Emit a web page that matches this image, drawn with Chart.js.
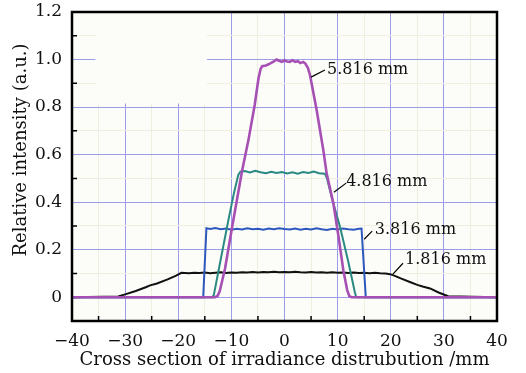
<!DOCTYPE html>
<html>
<head>
<meta charset="utf-8">
<script src="https://cdn.jsdelivr.net/npm/chart.js@4"></script>
<style>
  body { margin: 0; background: #ffffff; }
  #wrap { width: 526px; height: 373px; }
</style>
</head>
<body>
<div id="wrap"><canvas id="perfil"></canvas></div>
<script>
// ---- data (x in mm, y relative intensity) ----
const labels1816 = '1.816 mm', labels3816 = '3.816 mm', labels4816 = '4.816 mm', labels5816 = '5.816 mm';

const blackX = [-40, -31.3, -30, -28, -26, -25.3, -24, -22, -20.5, -19.4, -18, -17, -16, -15, -14, -13, -12, -11, -10, -9, -8, -7, -6, -5, -4, -3, -2, -1, 0, 1, 2, 3, 4, 5, 6, 7, 8, 9, 10, 11, 12, 13, 14, 15, 16, 17, 18, 19, 19.9, 21, 22, 23.6, 25, 26, 27.4, 29, 30.8, 40];
const blackY = [0, 0.003, 0.012, 0.026, 0.043, 0.05, 0.058, 0.075, 0.09, 0.103, 0.101, 0.103, 0.102, 0.104, 0.101, 0.103, 0.105, 0.102, 0.104, 0.103, 0.105, 0.104, 0.106, 0.104, 0.106, 0.105, 0.107, 0.105, 0.106, 0.105, 0.107, 0.105, 0.104, 0.106, 0.104, 0.105, 0.103, 0.105, 0.103, 0.104, 0.102, 0.104, 0.102, 0.103, 0.101, 0.103, 0.101, 0.1, 0.097, 0.088, 0.078, 0.064, 0.052, 0.045, 0.037, 0.02, 0.004, 0];

const blueX = [-40, -15.3, -14.7, -14, -13, -12, -11, -10, -9, -8, -7, -6, -5, -4, -3, -2, -1, 0, 1, 2, 3, 4, 5, 6, 7, 8, 9, 10, 11, 12, 13, 14, 14.5, 15.3, 40];
const blueY = [0, 0, 0.29, 0.287, 0.291, 0.286, 0.289, 0.284, 0.288, 0.285, 0.29, 0.286, 0.288, 0.284, 0.289, 0.286, 0.29, 0.287, 0.285, 0.289, 0.284, 0.288, 0.285, 0.29, 0.286, 0.283, 0.288, 0.285, 0.289, 0.286, 0.284, 0.288, 0.289, 0, 0];

const tealX = [-40, -13.6, -13.3, -12, -10.6, -9.5, -8.7, -8.3, -7.5, -6.5, -5.5, -4.5, -3.5, -2.5, -1.5, -0.5, 0.5, 1.5, 2.5, 3.5, 4.5, 5.5, 6.5, 7.6, 8.0, 9, 10.45, 12, 13.2, 13.5, 40];
const tealY = [0, 0, 0.01, 0.16, 0.32, 0.44, 0.515, 0.528, 0.531, 0.525, 0.532, 0.526, 0.522, 0.528, 0.523, 0.527, 0.521, 0.526, 0.52, 0.527, 0.523, 0.529, 0.522, 0.52, 0.5, 0.41, 0.296, 0.15, 0.025, 0, 0];

const magX = [-40, -13.1, -12.6, -12.2, -11.2, -9.9, -8.0, -6.8, -5.6, -4.9, -4.5, -4.2, -3.5, -3, -2.5, -2, -1.5, -1, -0.5, 0, 0.5, 1, 1.5, 2, 2.5, 3, 3.5, 3.9, 4.4, 4.8, 6.06, 7.3, 7.94, 9.2, 10.2, 11.07, 11.8, 12.2, 12.6, 40];
const magY = [0, 0, 0.005, 0.025, 0.12, 0.29, 0.53, 0.66, 0.81, 0.92, 0.96, 0.972, 0.975, 0.98, 0.986, 0.992, 1.0, 0.995, 0.99, 0.996, 0.992, 0.99, 0.997, 0.99, 0.993, 0.985, 0.99, 0.984, 0.965, 0.935, 0.787, 0.62, 0.52, 0.395, 0.25, 0.114, 0.03, 0.005, 0, 0];

// annotation text positions and leader lines (data coords)
const notaTexto = [labels5816, labels4816, labels3816, labels1816];
const notaX = [8.0, 11.6, 17.0, 22.7];
const notaY = [0.956, 0.484, 0.282, 0.156];
const lineaDesde = [[5.0, 0.926], [9.3, 0.442], [15.0, 0.244], [20.4, 0.097]];
const lineaHasta = [[7.6, 0.956], [11.6, 0.48], [16.5, 0.278], [22.3, 0.143]];

const tituloY = 'Relative intensity (a.u.)';

const pares = (xs, ys) => xs.map((x, i) => ({ x: x, y: ys[i] }));

const FUENTE = '"DejaVu Serif", "Liberation Serif", serif';
const colorMayor = '#9c9ce8';
const colorMenor = '#f0efdf';

// ---- plugin: plot background, hidden legend box, frame, inward ticks, notes ----
const extras = {
  id: 'extras',
  beforeDraw(chart) {
    const { ctx, chartArea: a } = chart;
    ctx.save();
    ctx.fillStyle = '#fcfcf9';
    ctx.fillRect(a.left, a.top, a.right - a.left, a.bottom - a.top);
    ctx.restore();
  },
  beforeDatasetsDraw(chart) {
    // blank patch where the original legend box sat
    const { ctx, scales: { x, y } } = chart;
    const x0 = x.getPixelForValue(-35.6), x1 = x.getPixelForValue(-14.6);
    const y0 = y.getPixelForValue(1.2), y1 = y.getPixelForValue(0.815);
    ctx.save();
    ctx.fillStyle = '#fcfcf9';
    ctx.fillRect(x0, y0, x1 - x0, y1 - y0);
    ctx.restore();
  },
  afterDraw(chart) {
    const { ctx, chartArea: a, scales: { x, y } } = chart;
    ctx.save();
    ctx.strokeStyle = '#000';
    // inward minor ticks
    ctx.lineWidth = 1.5;
    ctx.beginPath();
    for (let v = -35; v < 40; v += 10) {
      const px = x.getPixelForValue(v);
      ctx.moveTo(px, a.bottom);
      ctx.lineTo(px, a.bottom - 5);
    }
    for (let k = 1; k < 12; k += 2) {
      const py = y.getPixelForValue(k / 10);
      ctx.moveTo(a.left, py);
      ctx.lineTo(a.left + 5, py);
    }
    ctx.stroke();
    // frame
    ctx.lineWidth = 2.5;
    ctx.strokeRect(a.left, a.top, a.right - a.left, a.bottom - a.top);

    // y title, sits a bit above the axis middle like the original
    ctx.fillStyle = '#111';
    ctx.font = '18px ' + FUENTE;
    ctx.textAlign = 'center';
    ctx.textBaseline = 'middle';
    ctx.save();
    ctx.translate(21, 150);
    ctx.rotate(-Math.PI / 2);
    ctx.fillText(tituloY, 0, 0);
    ctx.restore();

    // labels with leader lines
    ctx.lineWidth = 1.2;
    ctx.font = '16px ' + FUENTE;
    ctx.textAlign = 'left';
    notaTexto.forEach((t, i) => {
      ctx.beginPath();
      ctx.moveTo(x.getPixelForValue(lineaDesde[i][0]), y.getPixelForValue(lineaDesde[i][1]));
      ctx.lineTo(x.getPixelForValue(lineaHasta[i][0]), y.getPixelForValue(lineaHasta[i][1]));
      ctx.stroke();
      ctx.fillText(t, x.getPixelForValue(notaX[i]), y.getPixelForValue(notaY[i]));
    });
    ctx.restore();
  }
};

// ---- chart ----
const serie = (label, xs, ys, color, ancho) => ({
  label: label,
  data: pares(xs, ys),
  borderColor: color,
  borderWidth: ancho,
  pointRadius: 0,
  tension: 0,
  fill: false
});

new Chart(document.getElementById('perfil'), {
  type: 'line',
  data: {
    // dataset 0 is drawn on top
    datasets: [
      serie(labels5816, magX, magY, '#a650b4', 2.6),
      serie(labels4816, tealX, tealY, '#2a8a82', 2),
      serie(labels3816, blueX, blueY, '#2d58bd', 2),
      serie(labels1816, blackX, blackY, '#111111', 2)
    ]
  },
  options: {
    responsive: true,
    maintainAspectRatio: false,
    animation: false,
    layout: { padding: { top: 12, right: 29, left: 0, bottom: 0 } },
    plugins: { legend: { display: false }, tooltip: { enabled: false } },
    scales: {
      x: {
        type: 'linear',
        min: -40,
        max: 40,
        afterFit: (s) => { s.height = 52; s.paddingLeft = 0; s.paddingRight = 0; },
        border: { display: false },
        grid: {
          drawTicks: false,
          lineWidth: 1,
          color: (c) => (c.tick && c.tick.value % 10 === 0 ? colorMayor : colorMenor)
        },
        ticks: {
          stepSize: 5,
          autoSkip: false,
          maxRotation: 0,
          padding: 10,
          color: '#111',
          font: { family: FUENTE, size: 17 },
          callback: (v) => (v % 10 === 0 ? (v < 0 ? '\u2212' + Math.abs(v) : String(v)) : '')
        },
        title: {
          display: true,
          text: 'Cross section of irradiance distrubution /mm',
          color: '#111',
          font: { family: FUENTE, size: 18 },
          padding: { top: 0, bottom: 2 }
        }
      },
      y: {
        min: -0.1,
        max: 1.2,
        afterFit: (s) => { s.width = 72; s.paddingTop = 0; s.paddingBottom = 0; },
        border: { display: false },
        grid: {
          drawTicks: false,
          lineWidth: 1,
          color: (c) => (c.tick && Math.round(c.tick.value * 10) % 2 === 0 ? colorMayor : colorMenor)
        },
        ticks: {
          stepSize: 0.1,
          autoSkip: false,
          padding: 10,
          color: '#111',
          font: { family: FUENTE, size: 17 },
          callback: (v) => {
            const k = Math.round(v * 10);
            if (k % 2 !== 0 || k < 0) return '';
            return k === 0 ? '0' : (k / 10).toFixed(1);
          }
        },
        title: { display: false }
      }
    }
  },
  plugins: [extras]
});
</script>
</body>
</html>
